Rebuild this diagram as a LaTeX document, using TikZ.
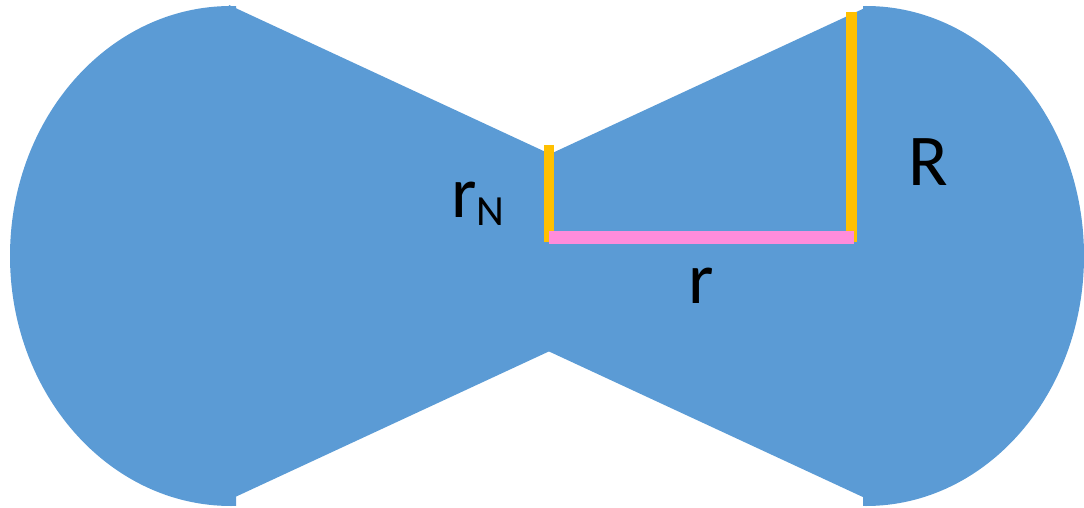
\documentclass[tikz,border=0pt]{standalone}
\usepackage{fontspec}
\setmainfont{Carlito}
\usetikzlibrary{positioning}
\definecolor{neckblue}{HTML}{5B9BD5}
\definecolor{radgold}{HTML}{FFC000}
\definecolor{radpink}{HTML}{FF8CDB}

\begin{document}
\begin{tikzpicture}[
  x=1pt, y=-1pt,
  body/.style={fill=neckblue},
  radbar/.style={draw=radgold, line width=10.5pt},
  lenbar/.style={draw=radpink, line width=13pt},
  lbl/.style={font=\fontsize{73}{80}\selectfont, text=black, inner sep=0pt, anchor=base},
]

% Frame
\useasboundingbox (0,0) rectangle (1084,508);

% Left cap (half ellipse)
\begin{scope}
  \clip (0,0) rectangle (236,508);
  \fill[body] (231,256) ellipse[x radius=221, y radius=250];
\end{scope}

% Right cap (half ellipse)
\begin{scope}
  \clip (863,0) rectangle (1084,508);
  \fill[body] (866,256) ellipse[x radius=218, y radius=250];
\end{scope}

% Cones towards the neck
\fill[body] (229,5) -- (550,154) -- (552,350) -- (233,498) -- (226,256) -- cycle;
\fill[body] (548,155) -- (867,7) -- (870,256) -- (865,498) -- (548,351) -- cycle;

% Radii
\coordinate (nt) at (549,145);
\coordinate (nb) at (549,242);
\coordinate (bt) at (851.5,12);
\coordinate (bb) at (851.5,242);
\coordinate (rl) at (549,237.5);
\coordinate (rr) at (854,237.5);
\draw[radbar] (nt) -- (nb);
\draw[radbar] (bt) -- (bb);
\draw[lenbar] (rl) -- (rr);

% Labels
\node[lbl, anchor=base west] (rN) at (451,217) {r\raisebox{-8pt}{\fontsize{43}{45}\selectfont N}};
\node[lbl] (rlen) at (701.5,303) {r};
\node[lbl] (Rbig) at (928,185) {R};

\end{tikzpicture}
\end{document}
